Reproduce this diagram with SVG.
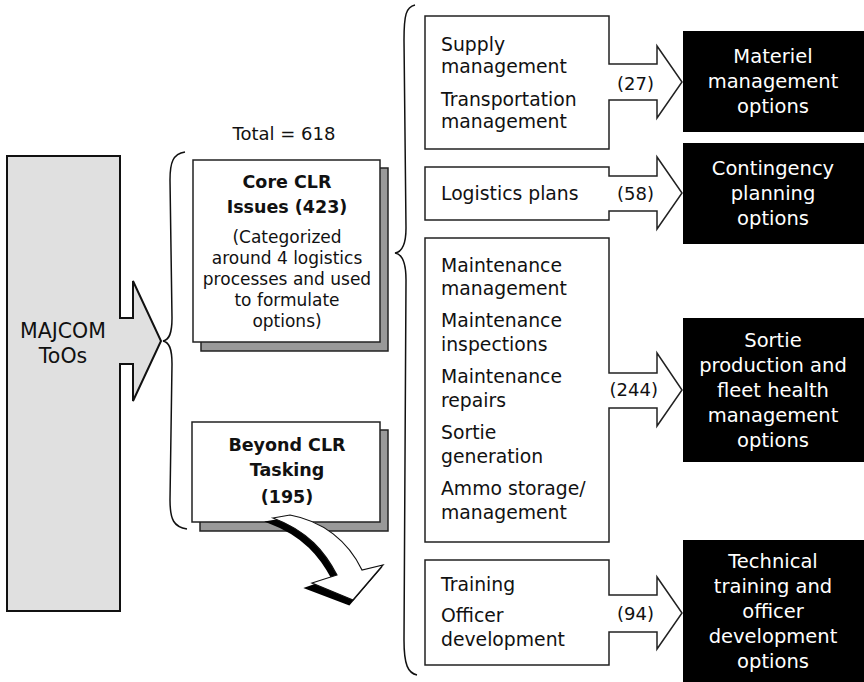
<svg xmlns="http://www.w3.org/2000/svg" width="864" height="682" viewBox="0 0 864 682">
<style>
text{font-family:"DejaVu Sans","Liberation Sans",Arial,sans-serif;fill:#111}
.box{fill:#fff;stroke:#222;stroke-width:1.5}
.shadow{fill:#999;stroke:#222;stroke-width:1.5}
.brace{fill:none;stroke:#111;stroke-width:1.5}
.rt{font-size:18.8px}
.ct{font-size:17px;text-anchor:middle}
.bt{font-size:17.5px;font-weight:bold;text-anchor:middle}
.num{font-size:18px;text-anchor:end}
.blk{fill:#000}
.wt{font-size:19.5px;fill:#fff;text-anchor:middle}
</style>

<g id="majcom">
<path d="M7,156 H120 V318 H133 V281 L161,341 L133,401 V364 H120 V611 H7 Z" fill="#e0e0e0" stroke="#111" stroke-width="2"/>
<text font-size="20.5" text-anchor="middle"><tspan x="63" y="338">MAJCOM</tspan><tspan x="63" y="363">ToOs</tspan></text>
</g>

<g id="total">
<text x="284" y="140" font-size="18" text-anchor="middle">Total = 618</text>
</g>

<g id="core-clr">
<rect class="shadow" x="201" y="168" width="187" height="183"/>
<rect class="box" x="193" y="160" width="187" height="182"/>
<text class="bt"><tspan x="287" y="188">Core CLR</tspan><tspan x="287" y="213">Issues (423)</tspan></text>
<text class="ct"><tspan x="287" y="243">(Categorized</tspan><tspan x="287" y="264">around 4 logistics</tspan><tspan x="287" y="285">processes and used</tspan><tspan x="287" y="306">to formulate</tspan><tspan x="287" y="327">options)</tspan></text>
</g>

<g id="beyond-clr">
<rect class="shadow" x="200" y="430" width="188" height="101"/>
<rect class="box" x="192" y="422" width="188" height="100"/>
<text class="bt"><tspan x="287" y="451">Beyond CLR</tspan><tspan x="287" y="476">Tasking</tspan><tspan x="287" y="503">(195)</tspan></text>
</g>

<g id="materiel-group">
<path class="box" d="M425,16 H609 V64 H657 V46 L682,82 L657,118 V100 H609 V149 H425 Z"/>
<text class="rt"><tspan x="441" y="51">Supply</tspan><tspan x="441" y="73">management</tspan><tspan x="441" y="106">Transportation</tspan><tspan x="441" y="128">management</tspan></text>
<text class="num" x="654" y="90">(27)</text>
</g>

<g id="logistics-group">
<path class="box" d="M425,167 H609 V176 H657 V157 L682,193 L657,229 V211 H609 V220 H425 Z"/>
<text class="rt" x="441" y="200">Logistics plans</text>
<text class="num" x="654" y="200">(58)</text>
</g>

<g id="maintenance-group">
<path class="box" d="M425,238 H609 V373 H657 V353 L682,390 L657,426 V408 H609 V542 H425 Z"/>
<text class="rt"><tspan x="441" y="272">Maintenance</tspan><tspan x="441" y="295">management</tspan><tspan x="441" y="327">Maintenance</tspan><tspan x="441" y="351">inspections</tspan><tspan x="441" y="383">Maintenance</tspan><tspan x="441" y="407">repairs</tspan><tspan x="441" y="439">Sortie</tspan><tspan x="441" y="463">generation</tspan><tspan x="441" y="495">Ammo storage/</tspan><tspan x="441" y="519">management</tspan></text>
<text class="num" x="658" y="396">(244)</text>
</g>

<g id="training-group">
<path class="box" d="M425,560 H609 V595 H657 V577 L682,613 L657,649 V632 H609 V665 H425 Z"/>
<text class="rt"><tspan x="441" y="591">Training</tspan><tspan x="441" y="622">Officer</tspan><tspan x="441" y="646">development</tspan></text>
<text class="num" x="654" y="620">(94)</text>
</g>

<g id="materiel-options">
<rect class="blk" x="683" y="31" width="181" height="101"/>
<text class="wt"><tspan x="773" y="63">Materiel</tspan><tspan x="773" y="88">management</tspan><tspan x="773" y="113">options</tspan></text>
</g>

<g id="contingency-options">
<rect class="blk" x="683" y="143" width="181" height="101"/>
<text class="wt"><tspan x="773" y="175">Contingency</tspan><tspan x="773" y="200">planning</tspan><tspan x="773" y="225">options</tspan></text>
</g>

<g id="sortie-options">
<rect class="blk" x="683" y="318" width="181" height="144"/>
<text class="wt"><tspan x="773" y="347">Sortie</tspan><tspan x="773" y="372">production and</tspan><tspan x="773" y="397">fleet health</tspan><tspan x="773" y="422">management</tspan><tspan x="773" y="447">options</tspan></text>
</g>

<g id="training-options">
<rect class="blk" x="683" y="540" width="181" height="142"/>
<text class="wt"><tspan x="773" y="568">Technical</tspan><tspan x="773" y="593">training and</tspan><tspan x="773" y="618">officer</tspan><tspan x="773" y="643">development</tspan><tspan x="773" y="668">options</tspan></text>
</g>

<g id="connectors">
<path class="brace" d="M185,152 C173,154 170,162 170,180 L172,318 C172,334 169,340 163,341 C169,342 172,348 172,364 L170,500 C170,520 174,527 187,529"/>
<path class="brace" d="M415,5 C406,7 404,15 404,40 L406,228 C406,245 402,252 395,253 C402,254 406,262 406,280 L404,640 C404,665 408,673 417,675"/>
<g id="curved-arrow">
<path d="M269,522 L286,519 C319,525 344,545 358,574 L379,569 L349,604 L307,588 L333,579 C321,556 304,535 269,522 Z" fill="#000" stroke="#000" stroke-width="2.5"/>
<path d="M273,518 L290,515 C323,521 348,541 362,570 L383,565 L353,600 L312,583 L337,575 C325,552 308,531 273,518 Z" fill="#fff" stroke="#111" stroke-width="1.2"/>
</g>
</g>
</svg>
